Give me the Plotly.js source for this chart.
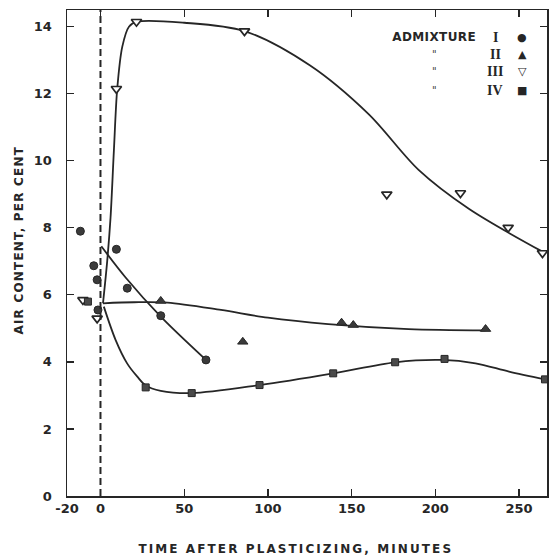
<!DOCTYPE html>
<html>
<head>
<meta charset="utf-8">
<script src="https://cdn.plot.ly/plotly-3.0.1.min.js"></script>
<style>
  html, body { margin: 0; padding: 0; background: #fff; }
  #chart { width: 550px; height: 558px; }
</style>
</head>
<body>
<div id="chart"></div>
<script>
// ---- Data ----
// Admixture I (filled circles)
const timeI = [-12, -4, -2, -1.5, 9.5, 16, 36, 63];
const airI  = [7.9, 6.87, 6.45, 5.55, 7.36, 6.2, 5.38, 4.06];
// Admixture II (filled triangles)
const timeII = [36, 85, 144, 151, 230];
const airII  = [5.82, 4.6, 5.17, 5.1, 4.98];
// Admixture III (open inverted triangles)
const timeIII = [-10.5, -2, 9.5, 21.5, 86, 171, 215, 243.5, 264];
const airIII  = [5.85, 5.3, 12.15, 14.15, 13.87, 9.0, 9.04, 8.01, 7.25];
// Admixture IV (filled squares)
const timeIV = [-7.5, 27, 54.5, 95, 139, 176, 205.5, 265.5];
const airIV  = [5.8, 3.24, 3.07, 3.31, 3.66, 3.99, 4.09, 3.48];

// Hand-drawn fitted curves
const curveTimeI = [0.5, 15, 36, 63];
const curveAirI  = [7.45, 6.52, 5.35, 4.06];
const curveTimeII = [1.5, 20, 40, 72, 100, 136, 184, 230];
const curveAirII  = [5.75, 5.78, 5.77, 5.55, 5.32, 5.13, 4.98, 4.94];
const curveTimeIII = [1.5, 4, 6, 8, 10, 13, 17, 22, 50, 86, 125, 160, 190, 220, 264];
const curveAirIII  = [5.75, 7.0, 8.3, 10.3, 12.15, 13.4, 14.0, 14.15, 14.12, 13.87, 12.85, 11.4, 9.73, 8.57, 7.29];
const curveTimeIV = [2, 9, 16, 22, 27, 36, 54.5, 95, 139, 176, 204, 224, 244, 265.5];
const curveAirIV  = [5.65, 4.66, 3.95, 3.56, 3.3, 3.14, 3.07, 3.31, 3.66, 3.99, 4.06, 3.96, 3.71, 3.48];

const plasticizeTime = 0;
const xTickVals = [-20, 0, 50, 100, 150, 200, 250];
const xTickText = ['-20', '0', '50', '100', '150', '200', '250'];
const yTickVals = [0, 2, 4, 6, 8, 10, 12, 14];
const legendNumerals = ['I', 'II', 'III', 'IV'];
const legendSymbols = ['●', '▲', '▽', '■'];

// ---- Styling ----
const ink = '#262626';
const lineStyle = { color: ink, width: 1.8, shape: 'spline', smoothing: 0.9 };

const traces = [
  { x: curveTimeI, y: curveAirI, mode: 'lines', line: lineStyle, hoverinfo: 'skip' },
  { x: curveTimeII, y: curveAirII, mode: 'lines', line: lineStyle, hoverinfo: 'skip' },
  { x: curveTimeIII, y: curveAirIII, mode: 'lines', line: lineStyle, hoverinfo: 'skip' },
  { x: curveTimeIV, y: curveAirIV, mode: 'lines', line: lineStyle, hoverinfo: 'skip' },
  { x: timeI, y: airI, mode: 'markers', name: 'I',
    marker: { symbol: 'circle', size: 8, color: '#3a3a3a', line: { color: ink, width: 1 } } },
  { x: timeII, y: airII, mode: 'markers', name: 'II',
    marker: { symbol: 'triangle-up', size: 9, color: '#3a3a3a', line: { color: ink, width: 1 } } },
  { x: timeIII, y: airIII, mode: 'markers', name: 'III',
    marker: { symbol: 'triangle-down', size: 9, color: '#ffffff', line: { color: ink, width: 1.7 } } },
  { x: timeIV, y: airIV, mode: 'markers', name: 'IV',
    marker: { symbol: 'square', size: 7, color: '#4a4a4a', line: { color: ink, width: 1 } } }
];

const L = 67, T = 10, W = 480, H = 486;
const px = x => (x - L) / W;
const py = y => (T + H - y) / H;

const annotations = [];
const rowsY = [37, 55, 72, 90];
annotations.push({ xref: 'paper', yref: 'paper', x: px(434), y: py(rowsY[0]), text: '<b>ADMIXTURE</b>',
  showarrow: false, xanchor: 'center', yanchor: 'middle',
  font: { family: 'DejaVu Sans', size: 12, color: ink } });
legendNumerals.forEach((n, i) => {
  annotations.push({ xref: 'paper', yref: 'paper', x: px(495), y: py(rowsY[i]), text: '<b>' + n + '</b>',
    showarrow: false, xanchor: 'center', yanchor: 'middle', borderpad: 0,
    font: { family: 'Liberation Serif', size: 14, color: ink } });
  annotations.push({ xref: 'paper', yref: 'paper', x: px(522), y: py(rowsY[i]), text: legendSymbols[i],
    showarrow: false, xanchor: 'center', yanchor: 'middle',
    font: { family: 'DejaVu Sans', size: 11, color: ink } });
  if (i > 0) {
    annotations.push({ xref: 'paper', yref: 'paper', x: px(434), y: py(rowsY[i]), text: '"',
      showarrow: false, xanchor: 'center', yanchor: 'middle',
      font: { family: 'DejaVu Sans', size: 10, color: '#3c3c3c' } });
  }
});
// Axis titles as annotations (for exact placement)
annotations.push({ xref: 'paper', yref: 'paper', x: px(296), y: py(549),
  text: '<b>TIME AFTER PLASTICIZING, MINUTES</b>', showarrow: false, xanchor: 'center', yanchor: 'middle',
  font: { family: 'DejaVu Sans', size: 12, color: ink } });
annotations.push({ xref: 'paper', yref: 'paper', x: px(19), y: py(240),
  text: '<b>AIR CONTENT, PER CENT</b>', showarrow: false, textangle: -90, xanchor: 'center', yanchor: 'middle',
  font: { family: 'DejaVu Sans', size: 12, color: ink } });

const axisCommon = {
  showgrid: false, zeroline: false, showline: true, linecolor: ink, linewidth: 1.5,
  ticks: 'inside', ticklen: 7, tickwidth: 1.2, tickcolor: ink, mirror: 'ticks',
  tickfont: { family: 'DejaVu Sans', size: 13, color: ink, weight: 'bold' }
};

const layout = {
  width: 550, height: 558,
  margin: { l: L, r: 550 - L - W, t: T, b: 558 - T - H },
  paper_bgcolor: '#ffffff', plot_bgcolor: '#ffffff',
  showlegend: false,
  xaxis: Object.assign({}, axisCommon, {
    range: [-20, 266.7], tickmode: 'array', tickvals: xTickVals, ticktext: xTickText,
    ticklabelstandoff: 0
  }),
  yaxis: Object.assign({}, axisCommon, {
    range: [0, 14.5], tickmode: 'array', tickvals: yTickVals,
    ticklabelstandoff: 11
  }),
  shapes: [{
    type: 'line', xref: 'x', yref: 'paper', x0: plasticizeTime, x1: plasticizeTime, y0: 0, y1: 1,
    line: { color: ink, width: 2, dash: '7px,4px' }
  }],
  annotations: annotations
};

Plotly.newPlot('chart', traces, layout, { staticPlot: true, displayModeBar: false }).then(gd => {
  gd.querySelectorAll('.annotation-text').forEach(t => {
    const s = t.textContent;
    if (s.indexOf('MINUTES') >= 0) t.style.letterSpacing = '2.1px';
    else if (s.indexOf('CENT') >= 0) t.style.letterSpacing = '1.2px';
    else if (s === 'ADMIXTURE') t.style.letterSpacing = '0.4px';
  });
});
</script>
</body>
</html>
